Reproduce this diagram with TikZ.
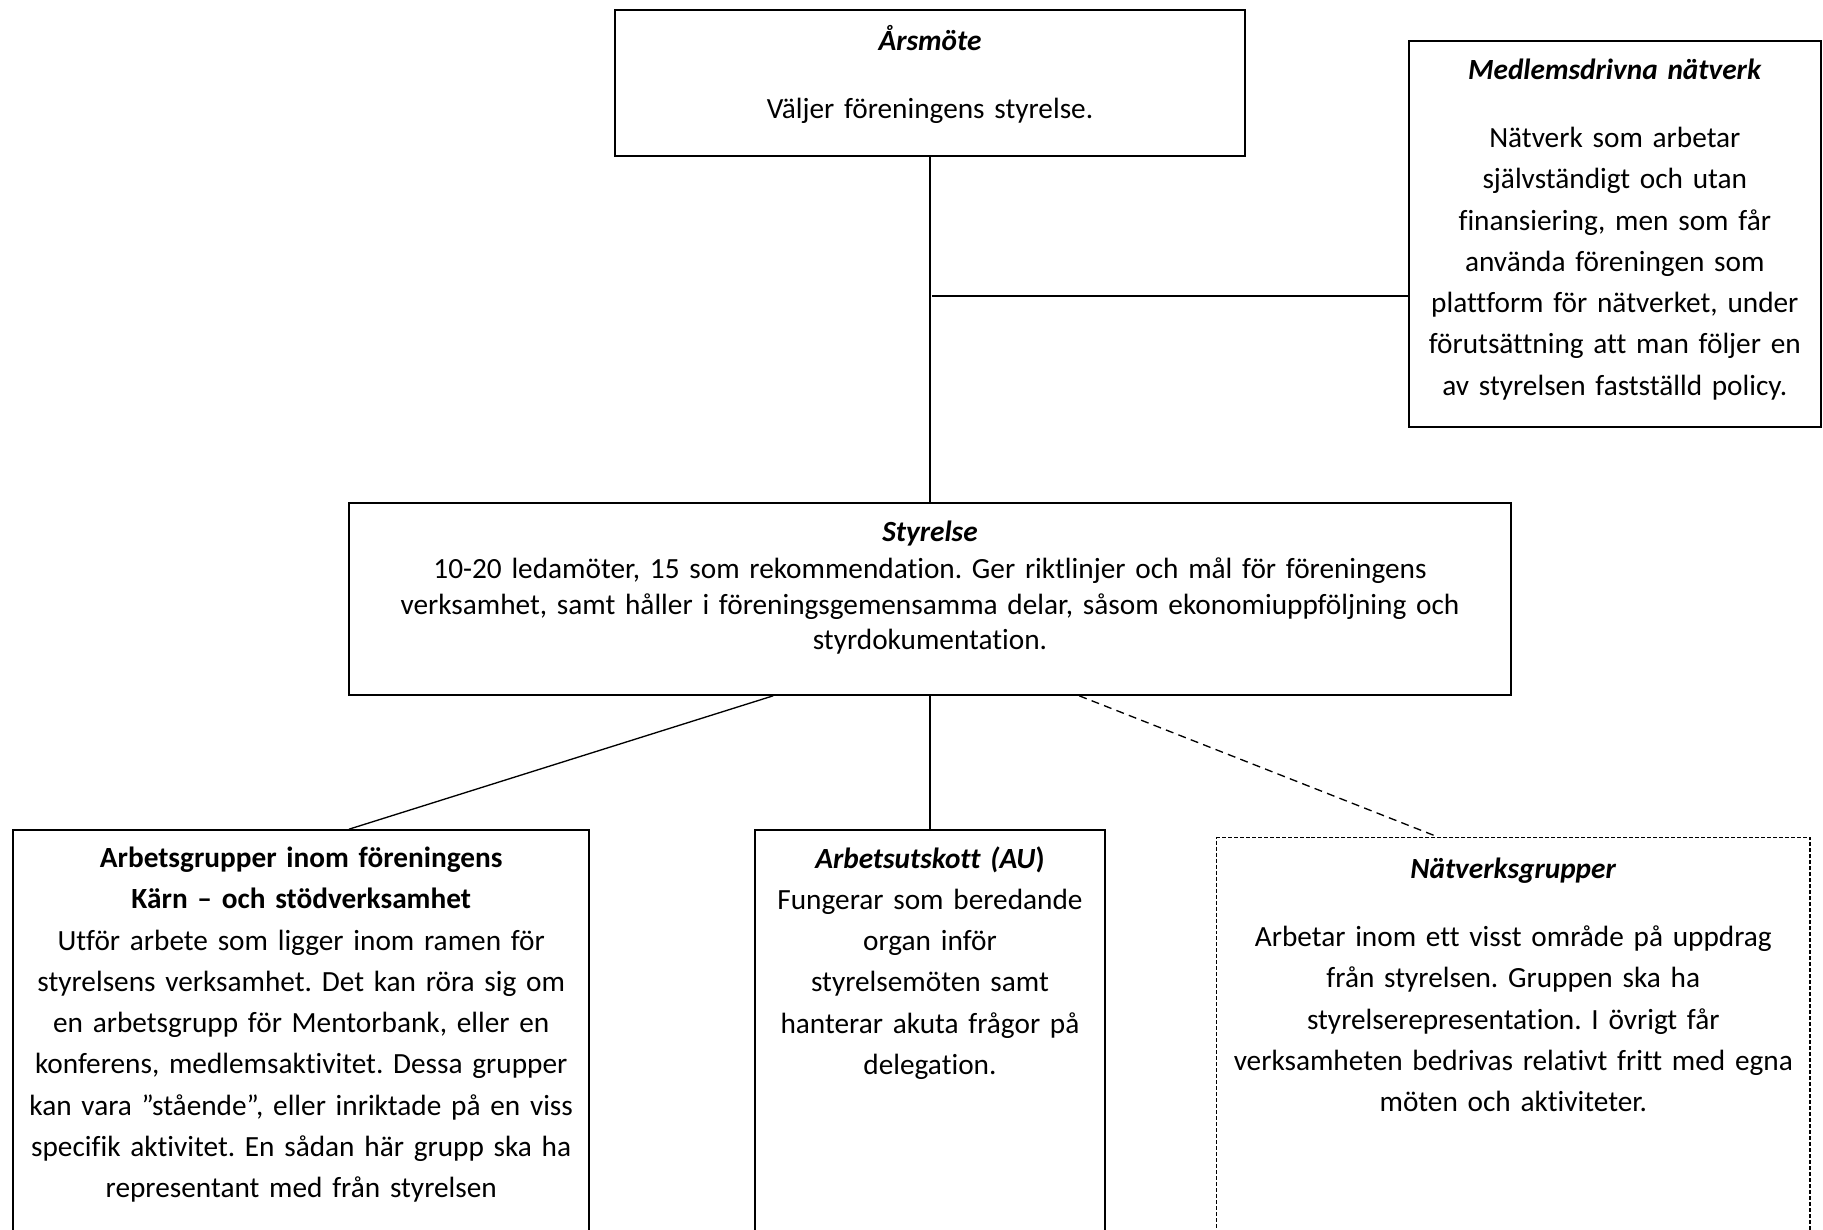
\documentclass[tikz,border=0pt]{standalone}
\usepackage{fontspec}
\setmainfont{Carlito}[Ligatures=NoCommon]
\frenchspacing
\usetikzlibrary{shapes.geometric, arrows}
\tikzstyle{rutaOrgan} = [rectangle, draw=black, line width=0.8pt, align=center, inner xsep=3pt, font=\fontsize{11}{15.5}\selectfont]
\tikzstyle{rutaOppen} = [rutaOrgan, inner ysep=6.3pt, text depth=8cm]
\tikzstyle{rutaStreckad} = [rutaOppen, line width=0.6pt, dash pattern=on 1.5pt off 0.75pt]
\tikzstyle{linia} = [line width=0.5pt]
\tikzstyle{liniaStreckad} = [linia, dash pattern=on 3pt off 2pt]
\tikzstyle{nodeNoDimensio} = [inner sep=0]
\newcommand{\rubrik}[1]{\textbf{\textit{#1}}}

\begin{document}
\begin{tikzpicture}[node distance=2cm]

	\useasboundingbox (-12.276,1.096) rectangle (11.788,-15.140);
	\clip (-12.276,1.096) rectangle (11.788,-15.140);

	% Rutor
	\node (arsmote) [rutaOrgan, text width=8.11cm, minimum height=1.93cm, text depth=33.8pt] {\rubrik{Årsmöte}\\[10pt] Väljer föreningens styrelse.};
	\node (medlemsnatverk) [rutaOrgan, right of=arsmote, xshift=7.04cm, yshift=-1.99cm, text width=5.23cm, minimum height=5.10cm, text depth=123.5pt] {\rubrik{Medlemsdrivna nätverk}\\[10pt] Nätverk som arbetar\\ självständigt och utan\\ finansiering, men som får\\ använda föreningen som\\ plattform för nätverket, under\\ förutsättning att man följer en\\ av styrelsen fastställd policy.};

	\node (styrelse) [rutaOrgan, below of=arsmote, yshift=-4.81cm, text width=15.12cm, minimum height=2.53cm, text depth=50.5pt, font=\fontsize{11}{13.3}\selectfont] {\rubrik{Styrelse}\\[0.6pt] 10-20 ledamöter, 15 som rekommendation. Ger riktlinjer och mål för föreningens\\ verksamhet, samt håller i föreningsgemensamma delar, såsom ekonomiuppföljning och\\ styrdokumentation.};

	% Rutorna nedtill (fortsätter under bildens kant)
	\node (arbetsgrupper) [rutaOppen, below of=styrelse, anchor=north, xshift=-8.30cm, yshift=-1.04cm, text width=7.39cm] {\textbf{Arbetsgrupper inom föreningens}\\ \textbf{Kärn – och stödverksamhet}\\ Utför arbete som ligger inom ramen för\\ styrelsens verksamhet. Det kan röra sig om\\ en arbetsgrupp för Mentorbank, eller en\\ konferens, medlemsaktivitet. Dessa grupper\\ kan vara ”stående”, eller inriktade på en viss\\ specifik aktivitet. En sådan här grupp ska ha\\ representant med från styrelsen};
	\node (arbetsutskott) [rutaOppen, below of=styrelse, anchor=north, yshift=-1.04cm, text width=4.40cm, inner ysep=6pt] {\textbf{\textit{Arbetsutskott (AU})}\\ Fungerar som beredande\\ organ inför\\ styrelsemöten samt\\ hanterar akuta frågor på\\ delegation.};
	\node (natverksgrupper) [rutaStreckad, below of=styrelse, anchor=north, xshift=7.70cm, yshift=-1.14cm, text width=7.62cm, inner ysep=7.7pt] {\rubrik{Nätverksgrupper}\\[10pt] Arbetar inom ett visst område på uppdrag\\ från styrelsen. Gruppen ska ha\\ styrelserepresentation. I övrigt får\\ verksamheten bedrivas relativt fritt med egna\\ möten och aktiviteter.};

	% Knutpunkt
	\node (knut) [nodeNoDimensio, below of=arsmote, yshift=-0.81cm] {};

	% Linjer mellan rutorna
	\draw [linia] (arsmote) -- (styrelse);
	\draw [linia] (knut) -- (knut -| medlemsnatverk.west);
	\draw [linia] ([xshift=-2.07cm]styrelse.south) -- ([xshift=0.63cm]arbetsgrupper.north);
	\draw [linia] (styrelse) -- (arbetsutskott);
	\draw [liniaStreckad] ([xshift=1.97cm]styrelse.south) -- ([xshift=-1.00cm]natverksgrupper.north);

\end{tikzpicture}
\end{document}
